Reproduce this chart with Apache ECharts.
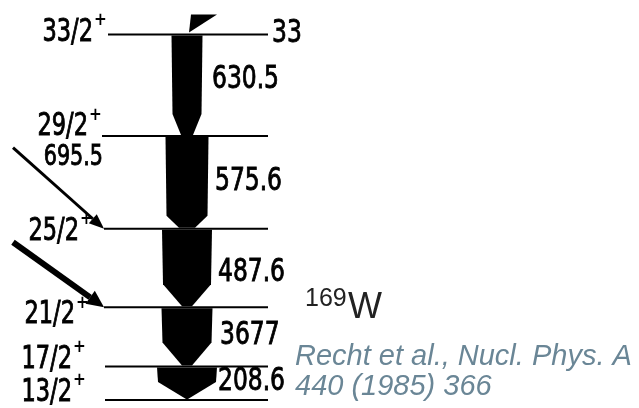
<!DOCTYPE html>
<html>
<head>
<meta charset="utf-8">
<script src="https://cdn.jsdelivr.net/npm/echarts@6/dist/echarts.min.js"></script>
<style>
  html, body { margin: 0; padding: 0; background: #fff; }
  #chart { width: 639px; height: 408px; }
</style>
</head>
<body>
<div id="chart"></div>
<script>
// 169W yrast band, bottom to top
const levelSpins = ['13/2', '17/2', '21/2', '25/2', '29/2', '33/2'];
const levelParity = ['+', '+', '+', '+', '+', '+'];
// gamma transitions, each from level i+1 down to level i
const gammaEnergies = [208.6, 367.7, 487.6, 575.6, 630.5];
const gammaLabels = ['208.6', '3677', '487.6', '575.6', '630.5'];
// relative intensity (arrow widths)
const gammaIntensity = [60, 51, 50, 43, 31];
// side feeding transitions
const feedLevels = ['25/2', '21/2'];
const feedLabels = ['695.5', ''];
const topLevelLabel = '33';
const nucleusMass = '169';
const nucleusSymbol = 'W';
const citeLines = ['Recht et al., Nucl. Phys. A', '440 (1985) 366'];

// level energies from summed gammas
const levelEnergies = [0];
gammaEnergies.forEach((g, i) => levelEnergies.push(+(levelEnergies[i] + g).toFixed(1)));

const NARROW = "'DejaVu Sans Condensed', 'Liberation Sans Narrow', sans-serif";
const ARIAL = "'Liberation Sans', Arial, sans-serif";
const CX = 187; // band centre

// label placement (right edge x, offset of centre from line)
const spinLabelPos = [[72, -7], [72, -7], [75, 8], [79, 3], [88, -9], [93, -2]];
const lineStart = [105, 105, 104, 104, 102, 108];
// arrow heads: length and half width of the tip
const headLen = [18, 24, 23, 13, 22];
const neckHalf = [1, 5, 5, 8, 6];
const gammaLabelPos = [[218, -1], [220, -1], [218, 5], [215, -1], [212, -5]];
// feeding arrows: rise above target, line width, head size
const feedRise = [81, 65];
const feedWidth = [3, 6];
const feedHead = [[15, 6], [17, 8]];

// tall narrow lettering of the scanned figure
function tallText(text, x, y, size, stretch, align) {
  return {
    type: 'text', x: x, y: y, scaleY: stretch,
    style: { text: text, x: 0, y: 0, align: align, verticalAlign: 'middle',
      fontSize: size, fontFamily: NARROW, fill: '#000', stroke: '#000', lineWidth: 0.7 }
  };
}

function levelItem(params, api) {
  const i = api.value(2);
  const y = api.coord([0, api.value(1)])[1];
  const x1 = lineStart[i];
  const x2 = api.coord([268, 0])[0];
  const pos = spinLabelPos[i];
  const children = [
    { type: 'line', shape: { x1: x1, y1: y, x2: x2, y2: y }, style: { stroke: '#000', lineWidth: 2 } },
    tallText(levelSpins[i], pos[0], y + pos[1], 25, 1.25, 'right'),
    { type: 'text', style: { text: levelParity[i], x: pos[0] + 1, y: y + pos[1] - 12, align: 'left', verticalAlign: 'middle',
        fontSize: 17, fontWeight: 'bold', fontFamily: NARROW, fill: '#000' } }
  ];
  if (i === levelSpins.length - 1) {
    children.push(tallText(topLevelLabel, x2 + 4, y - 1, 26, 1.2, 'left'));
    // piece of the next transition coming in from above
    children.push({ type: 'polygon', shape: { points: [[191, y - 20], [217, y - 20], [189, y - 2]] }, style: { fill: '#000' } });
  }
  return { type: 'group', children: children };
}

function gammaItem(params, api) {
  const i = api.value(0);
  const top = api.coord([CX, levelEnergies[i + 1]]);
  const bot = api.coord([CX, levelEnergies[i]]);
  const hw = gammaIntensity[i] / 2;
  const nk = neckHalf[i];
  const hb = bot[1] - headLen[i];
  const lp = gammaLabelPos[i];
  return {
    type: 'group',
    children: [
      { type: 'polygon', shape: { points: [
          [CX - hw, top[1] + 1], [CX + hw, top[1] + 1], [CX + hw - 1, hb],
          [CX + nk, bot[1] - 1], [CX - nk, bot[1] - 1], [CX - hw + 1, hb]
        ] }, style: { fill: '#000' } },
      tallText(gammaLabels[i], lp[0], (top[1] + bot[1]) / 2 + lp[1], 26, 1.2, 'left')
    ]
  };
}

function feedItem(params, api) {
  const i = api.value(0);
  const lvl = levelSpins.indexOf(feedLevels[i]);
  const y = api.coord([0, levelEnergies[lvl]])[1];
  const sx = 13, sy = y - feedRise[i];
  const ex = 104, ey = y;
  const dx = ex - sx, dy = ey - sy, len = Math.sqrt(dx * dx + dy * dy);
  const ux = dx / len, uy = dy / len;
  const hl = feedHead[i][0], hw = feedHead[i][1];
  const bx = ex - ux * hl, by = ey - uy * hl;
  const children = [
    { type: 'line', shape: { x1: sx, y1: sy, x2: bx, y2: by }, style: { stroke: '#000', lineWidth: feedWidth[i] } },
    { type: 'polygon', shape: { points: [[ex, ey], [bx - uy * hw, by + ux * hw], [bx + uy * hw, by - ux * hw]] },
      style: { fill: '#000' } }
  ];
  if (feedLabels[i]) {
    children.push(tallText(feedLabels[i], 103, y - 70.5, 23, 1.2, 'right'));
  }
  return { type: 'group', children: children };
}

const chart = echarts.init(document.getElementById('chart'));
chart.setOption({
  animation: false,
  backgroundColor: '#fff',
  grid: { left: 0, right: 0, top: 0, bottom: 0 },
  xAxis: { type: 'value', min: 0, max: 639, show: false },
  yAxis: { type: 'value', min: -50, max: 2485, show: false },
  graphic: [
    { type: 'text', left: 305, top: 287, style: { text: nucleusMass, fontSize: 25, fontFamily: ARIAL, fill: '#222' } },
    { type: 'text', left: 348, top: 290, style: { text: nucleusSymbol, fontSize: 36, fontFamily: ARIAL, fill: '#222' } },
    { type: 'text', left: 295, top: 342, style: { text: citeLines[0], fontSize: 29, fontStyle: 'italic', fontFamily: ARIAL, fill: '#6a8696' } },
    { type: 'text', left: 295, top: 372, style: { text: citeLines[1], fontSize: 29, fontStyle: 'italic', fontFamily: ARIAL, fill: '#6a8696' } }
  ],
  series: [
    { type: 'custom', silent: true, renderItem: feedItem, data: feedLevels.map((l, i) => [i]) },
    { type: 'custom', silent: true, renderItem: gammaItem, data: gammaEnergies.map((g, i) => [i, g]) },
    { type: 'custom', silent: true, renderItem: levelItem, data: levelEnergies.map((e, i) => [0, e, i]) }
  ]
});
</script>
</body>
</html>
